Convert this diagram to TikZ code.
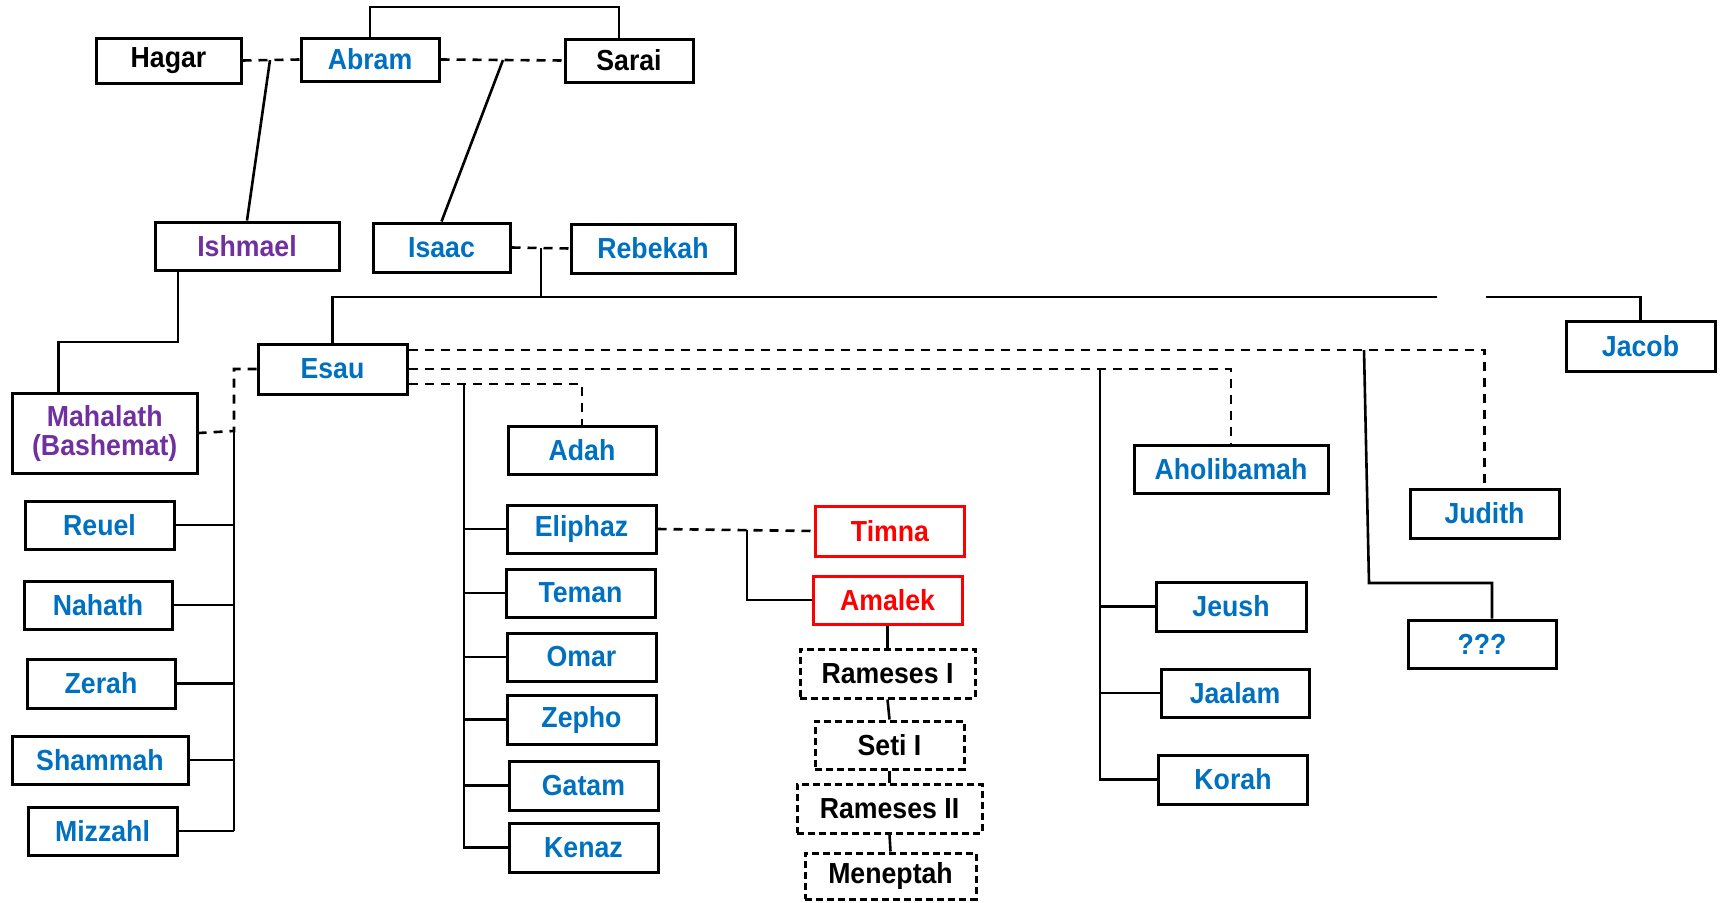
\documentclass[tikz,border=0pt]{standalone}
\usepackage{fontspec}
\setmainfont[FakeStretch=0.92]{Liberation Sans}
\definecolor{blu}{HTML}{0070C0}
\definecolor{pur}{HTML}{7030A0}
\definecolor{rd}{HTML}{FF0000}
\begin{document}
\begin{tikzpicture}[x=1pt,y=-1pt,line width=2.6pt,
        box/.style={draw,line width=3pt,inner sep=0pt,minimum width=149pt,minimum height=48pt,
            text=blu,font=\fontsize{29}{29}\selectfont\bfseries},
        pharaoh/.style={box,text=black,dash pattern=on 7pt off 4pt},
        marr/.style={dash pattern=on 9pt off 7pt}]
    \useasboundingbox (0,0) rectangle (1723,902);

        \node[box,text=black,minimum width=145pt,minimum height=45pt] (hagar) at(168.5,60.5){Hagar};
        \node[box,minimum width=138pt,minimum height=43pt] (abram) at(370,59.5){Abram};
        \node[box,text=black,minimum width=128pt,minimum height=43pt] (sarai) at(629,60.5){Sarai};
        \node[box,text=pur,minimum width=184pt] (ishmael) at(247,246){Ishmael};
        \node[box,minimum width=137pt,minimum height=49pt] (isaac) at(441.5,247.5){Isaac};
        \node[box,minimum width=164pt,minimum height=49pt] (rebekah) at(653,248.5){Rebekah};
        \node[box,minimum height=50pt] (jacob) at(1640.5,346){Jacob};
        \node[box,minimum height=50pt] (esau) at(332.5,369){Esau};
        \node[box,text=pur,minimum width=184.5pt,minimum height=80pt,align=center] (mahalath) at(104.75,433){Mahalath\\(Bashemat)};
        \node[box,minimum width=148pt] (adah) at(582,450){Adah};
        \node[box,minimum width=194pt] (aholibamah) at(1231,469){Aholibamah};
        \node[box,minimum height=49pt] (judith) at(1484.5,513.5){Judith};
        \node[box] (reuel) at(99.5,525){Reuel};
        \node[box] (eliphaz) at(581.5,529){Eliphaz};
        \node[box,text=rd,draw=rd,minimum height=50pt] (timna) at(890,531){Timna};
        \node[box] (teman) at(580.5,593){Teman};
        \node[box,text=rd,draw=rd] (amalek) at(887.5,600){Amalek};
        \node[box,minimum width=148pt] (nahath) at(98,605){Nahath};
        \node[box,minimum width=150pt,minimum height=49pt] (jeush) at(1231,606.5){Jeush};
        \node[box,minimum width=148pt] (unknown) at(1482,644){???};
        \node[pharaoh,minimum width=175pt,minimum height=49pt] (ramesesI) at(887.5,673.5){Rameses I};
        \node[box] (omar) at(581.5,657){Omar};
        \node[box,minimum width=148pt,minimum height=49pt] (zerah) at(101,683.5){Zerah};
        \node[box,minimum width=148pt] (jaalam) at(1235,693){Jaalam};
        \node[box,minimum height=49pt] (zepho) at(581.5,719.5){Zepho};
        \node[pharaoh] (setiI) at(889.5,745){Seti I};
        \node[box,minimum width=176pt] (shammah) at(100,760){Shammah};
        \node[box,minimum height=49pt] (korah) at(1233,779.5){Korah};
        \node[box,minimum height=49pt] (gatam) at(583.5,785.5){Gatam};
        \node[pharaoh,minimum width=185pt,minimum height=49pt] (ramesesII) at(889.5,808.5){Rameses II};
        \node[box] (mizzahl) at(102.5,831){Mizzahl};
        \node[box,minimum height=49pt] (kenaz) at(583.5,847.5){Kenaz};
        \node[pharaoh,minimum width=171pt,minimum height=46pt] (meneptah) at(890.5,876){Meneptah};

        \coordinate (top) at(619,7);
        \coordinate (hagarjn) at(270,60);
        \coordinate (saraijn) at(503,60);
        \coordinate (rebjn) at(541,248);
        \coordinate (sons) at(541,297);
        \coordinate (gapL) at(1437,297);
        \coordinate (gapR) at(1486,297);
        \coordinate (ishjn) at(178,342);
        \coordinate (mahjn) at(234,431);
        \coordinate (adahjn) at(464,384);
        \coordinate (aholjn) at(1100,369);
        \coordinate (judjn) at(1364,350);
        \coordinate (unkjn) at(1369,583);
        \coordinate (timjn) at(747,530);

        \draw (abram.north) |- (top) -- (top |- sarai.north);
        \draw[marr] (hagar.east) -- (abram.west);
        \draw[marr] (abram.east) -- (sarai.west);
            \draw (hagarjn) -- (ishmael.north);
            \draw (saraijn) -- (isaac.north);
        \draw[marr] (isaac.east) -- (rebekah.west);
            \draw (rebjn) -- (sons);
        \draw (esau.north) -- (esau.north |- sons) -- (gapL);
        \draw (gapR) -| (jacob.north);

        \draw (ishjn |- ishmael.south) -- (ishjn) -| ([xshift=-46pt]mahalath.north);

        \draw[marr] (esau.west) -| (mahjn) -- (mahalath.east);
            \draw (mahjn) -- (mahjn |- mizzahl.east);
            \draw (reuel.east) -- (reuel.east -| mahjn);
            \draw (nahath.east) -- (nahath.east -| mahjn);
            \draw (zerah.east) -- (zerah.east -| mahjn);
            \draw (shammah.east) -- (shammah.east -| mahjn);
            \draw (mizzahl.east) -- (mizzahl.east -| mahjn);

        \draw[marr] ([yshift=-15pt]esau.east) -| (adah.north);
            \draw (adahjn) |- (kenaz.west);
            \draw (eliphaz.west) -- (eliphaz.west -| adahjn);
            \draw (teman.west) -- (teman.west -| adahjn);
            \draw (omar.west) -- (omar.west -| adahjn);
            \draw (zepho.west) -- (zepho.west -| adahjn);
            \draw (gatam.west) -- (gatam.west -| adahjn);

        \draw[marr] (eliphaz.east) -- (timna.west);
            \draw (timjn) |- (amalek.west);
            \draw (amalek.south) -- (ramesesI.north);
            \draw (ramesesI.south) -- (setiI.north);
            \draw (setiI.south) -- (ramesesII.north);
            \draw (ramesesII.south) -- (meneptah.north);

        \draw[marr] (esau.east) -| (aholibamah.north);
            \draw (aholjn) |- (korah.west);
            \draw (jeush.west) -- (jeush.west -| aholjn);
            \draw (jaalam.west) -- (jaalam.west -| aholjn);

        \draw[marr] ([yshift=19pt]esau.east) -| (judith.north);
            \draw (judjn) -- (unkjn) -| ([xshift=10pt]unknown.north);
    \end{tikzpicture}
\end{document}
